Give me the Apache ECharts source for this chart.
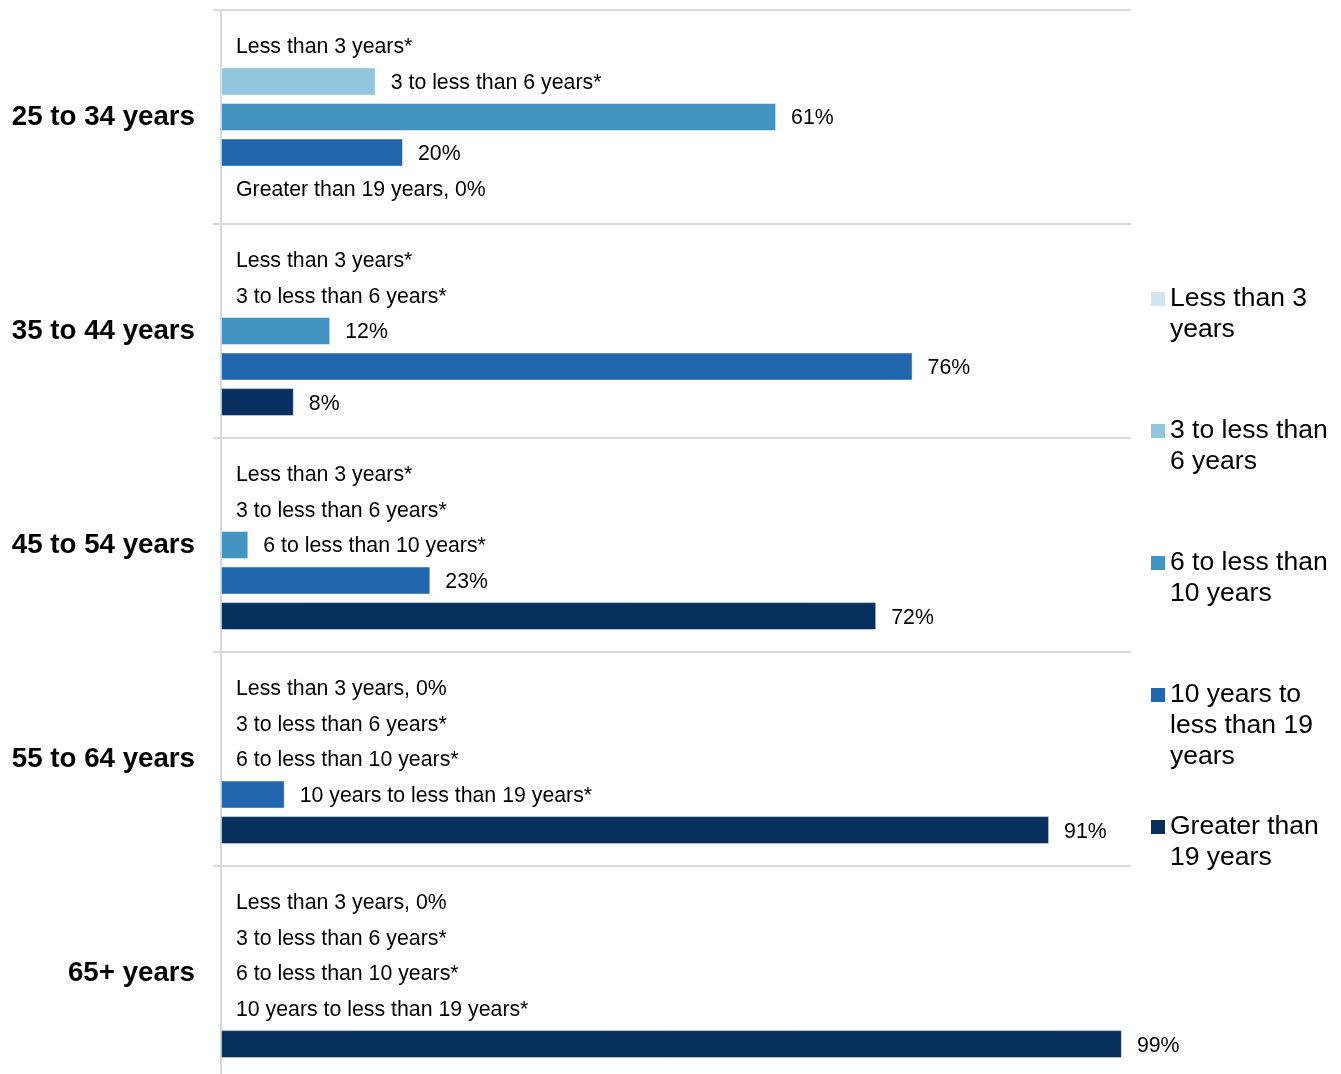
<!DOCTYPE html>
<html>
<head>
<meta charset="utf-8">
<title>Years of residence by age group</title>
<script src="https://cdn.jsdelivr.net/npm/echarts@6/dist/echarts.min.js"></script>
<style>
  html, body { margin: 0; padding: 0; background: #ffffff; }
  #chart { width: 1341px; height: 1074px; }
</style>
</head>
<body>
<div id="chart"></div>
<script>
// Age groups (rows, top to bottom)
const ageGroups = ['25 to 34 years', '35 to 44 years', '45 to 54 years', '55 to 64 years', '65+ years'];

// Duration bands (one series each)
const bandNames = [
  'Less than 3 years',
  '3 to less than 6 years',
  '6 to less than 10 years',
  '10 years to less than 19 years',
  'Greater than 19 years'
];

// Wrapped legend text for each band
const legendTexts = [
  'Less than 3\nyears',
  '3 to less than\n6 years',
  '6 to less than\n10 years',
  '10 years to\nless than 19\nyears',
  'Greater than\n19 years'
];

// Percent values per band, one entry per age group
const lessThan3 = [0, 0, 0, 0, 0];
const from3To6 = [17, 0, 0, 0, 0];
const from6To10 = [61, 12, 3, 0, 0];
const from10To19 = [20, 76, 23, 7, 0];
const over19 = [0, 8, 72, 91, 99];

// Estimates flagged as unreliable (shown with an asterisk instead of a value)
const lessThan3Flag = [true, true, true, false, false];
const from3To6Flag = [true, true, true, true, true];
const from6To10Flag = [false, false, true, true, true];
const from10To19Flag = [false, false, false, true, true];
const over19Flag = [false, false, false, false, false];

const bandColors = ['#d1e5f0', '#92c5de', '#4393c3', '#2166ac', '#08305f'];

const bandValues = [lessThan3, from3To6, from6To10, from10To19, over19];
const bandFlags = [lessThan3Flag, from3To6Flag, from6To10Flag, from10To19Flag, over19Flag];

const FONT = "'Liberation Sans', Arial, Helvetica, sans-serif";
const GRID_LINE = '#d9d9d9';

function barLabel(seriesIdx, dataIdx) {
  const v = bandValues[seriesIdx][dataIdx];
  if (bandFlags[seriesIdx][dataIdx]) return bandNames[seriesIdx] + '*';
  if (v === 0) return bandNames[seriesIdx] + ', 0%';
  return v + '%';
}

const series = bandNames.map(function (name, si) {
  return {
    name: name,
    type: 'bar',
    barWidth: 28,
    barGap: '27%',
    itemStyle: { color: bandColors[si] },
    label: {
      show: true,
      position: 'right',
      distance: 15,
      offset: [0, 1.5],
      fontFamily: FONT,
      fontSize: 21.3,
      color: '#000000',
      formatter: function (p) { return barLabel(p.seriesIndex, p.dataIndex); }
    },
    data: bandValues[si].map(function (v) {
      return v > 0
        ? { value: v, itemStyle: { borderColor: 'rgba(255,255,255,0.45)', borderWidth: 1 } }
        : { value: v };
    })
  };
});

// One legend block per band; the swatch lines up with the first text line,
// so the text is lifted by as many blank lines as it has lines after the first.
const LEGEND_LINE = 31;
const legendFirstLineY = [299, 431, 563, 695, 827];
const legends = bandNames.map(function (name, i) {
  const lines = legendTexts[i].split('\n').length;
  const lift = new Array(lines).join('\n');
  return {
    orient: 'vertical',
    left: 1151,
    top: legendFirstLineY[i] - (2 * lines - 1) * LEGEND_LINE / 2,
    padding: 0,
    icon: 'rect',
    itemWidth: 14,
    itemHeight: 14,
    selectedMode: false,
    textStyle: {
      fontFamily: FONT,
      fontSize: 26.5,
      lineHeight: LEGEND_LINE,
      color: '#000000'
    },
    formatter: function () { return lift + legendTexts[i]; },
    data: [name]
  };
});

const option = {
  backgroundColor: '#ffffff',
  animation: false,
  textStyle: { fontFamily: FONT },
  legend: legends,
  grid: {
    left: 221,
    right: 210,
    top: 10,
    bottom: -6,
    containLabel: false,
    outerBoundsMode: 'none'
  },
  xAxis: {
    type: 'value',
    min: 0,
    max: 100,
    show: false
  },
  yAxis: {
    type: 'category',
    inverse: true,
    data: ageGroups,
    axisLine: { show: true, lineStyle: { color: GRID_LINE, width: 2 } },
    axisTick: { show: true, length: 8, lineStyle: { color: GRID_LINE, width: 2 } },
    splitLine: { show: true, lineStyle: { color: GRID_LINE, width: 2 } },
    axisLabel: {
      margin: 26,
      padding: [4, 0, 0, 0],
      fontFamily: FONT,
      fontSize: 27.7,
      fontWeight: 'bold',
      color: '#000000'
    }
  },
  series: series
};

const chart = echarts.init(document.getElementById('chart'), null, { renderer: 'canvas' });
chart.setOption(option);
</script>
</body>
</html>
